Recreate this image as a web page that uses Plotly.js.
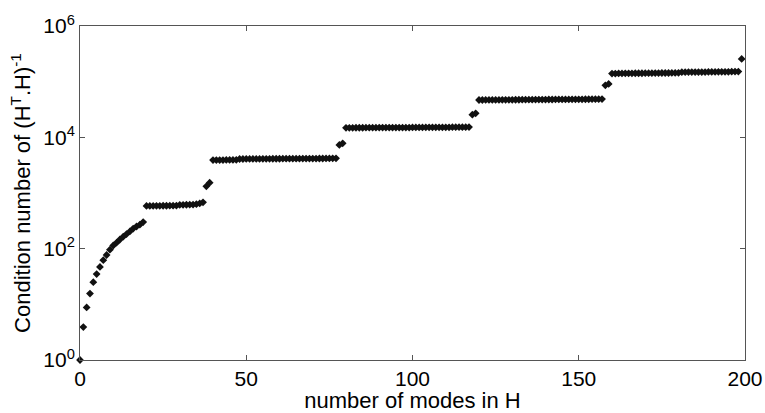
<!DOCTYPE html>
<html>
<head>
<meta charset="utf-8">
<script src="https://cdn.plot.ly/plotly-3.0.1.min.js"></script>
<style>
  html, body { margin: 0; padding: 0; background: #fff; }
  #chart { width: 765px; height: 413px; }
</style>
</head>
<body>
<div id="chart"></div>
<script>
// Condition number of (H^T.H)^-1 as modes are added to H, one value per step.
const curveStart = [1, 3.9, 8.8, 15.6, 25, 35, 47, 62, 77, 96, 114, 128, 146, 164, 183, 204, 230, 250, 270, 300];
const plateau2 = [585, 585, 586, 588, 588, 590, 590, 591, 592, 594, 610, 612, 615, 618, 620, 630, 650, 680];
const jump2 = [1320, 1530];
const plateau3 = [3900, 3900, 3910, 3910, 3920, 3920, 3930, 3940,
  4080, 4080, 4090, 4090, 4100, 4100, 4100, 4110, 4110, 4110,
  4120, 4120, 4120, 4130, 4130, 4130, 4140, 4140, 4140, 4150,
  4150, 4150, 4160, 4160, 4170, 4170, 4180, 4180, 4190, 4200];
const jump3 = [7300, 7800];
const plateau4 = [14800, 14800, 14800, 14850, 14850, 14850, 14900, 14900, 14900, 14900,
  14950, 14950, 14950, 14950, 15000, 15000, 15000, 15000, 15000, 15000,
  15050, 15050, 15050, 15050, 15100, 15100, 15100, 15100, 15100, 15150,
  15150, 15150, 15200, 15200, 15200, 15250, 15250, 15300];
const jump4 = [25500, 27000];
const plateau5 = [46800, 46800, 46900, 46900, 47000, 47000, 47000, 47100, 47100, 47200,
  47200, 47300, 47300, 47400, 47400, 47500, 47500, 47600, 47600, 47700,
  47700, 47800, 47800, 47900, 47900, 48000, 48000, 48000, 48100, 48100,
  48200, 48200, 48300, 48300, 48400, 48400, 48500, 48600];
const jump5 = [86000, 91000];
const plateau6 = [140000, 140000, 140500, 140500, 141000, 141000, 141000, 141500, 141500, 141500,
  142000, 142000, 142000, 142500, 142500, 143000, 143000, 143000, 143500, 143500, 144000,
  148000, 148000, 148500, 148500, 148500, 149000, 149000, 149000, 149500,
  149500, 149500, 150000, 150000, 150000, 150500, 151000, 151500, 152000];
const jump6 = [256000];

const condNumber = [].concat(curveStart, plateau2, jump2, plateau3, jump3,
  plateau4, jump4, plateau5, jump5, plateau6, jump6);
const modes = condNumber.map((_, i) => i);

const xTicks = [0, 50, 100, 150, 200];
const yTickVals = [1, 100, 10000, 1000000];
const yTickText = ['10<sup>0</sup>', '10<sup>2</sup>', '10<sup>4</sup>', '10<sup>6</sup>'];

const tickFont = { family: 'Liberation Sans, Arial, sans-serif', size: 21, color: '#000' };
const titleFont = { family: 'Liberation Sans, Arial, sans-serif', size: 22, color: '#000' };

const trace = {
  x: modes,
  y: condNumber,
  type: 'scatter',
  mode: 'markers',
  cliponaxis: false,
  marker: { symbol: 'diamond', size: 6, color: '#111' }
};

const axisCommon = {
  showline: true,
  linecolor: '#555',
  linewidth: 1,
  mirror: 'ticks',
  ticks: 'inside',
  ticklen: 5,
  tickcolor: '#555',
  showgrid: false,
  zeroline: false,
  automargin: false,
  tickfont: tickFont
};

const layout = {
  width: 765,
  height: 413,
  margin: { l: 80, r: 20, t: 26, b: 53 },
  paper_bgcolor: '#fff',
  plot_bgcolor: '#fff',
  showlegend: false,
  xaxis: Object.assign({}, axisCommon, {
    range: [0, 200],
    tickvals: xTicks,
    ticktext: xTicks.map(String),
    title: { text: 'number of modes in H', font: titleFont, standoff: 0 }
  }),
  yaxis: Object.assign({}, axisCommon, {
    type: 'log',
    range: [0, 6],
    tickvals: yTickVals,
    ticktext: yTickText,
    title: { text: 'Condition number of (H<sup>T</sup>.H)<sup>-1</sup>', font: titleFont, standoff: 6 }
  })
};

Plotly.newPlot('chart', [trace], layout, { staticPlot: true, displayModeBar: false });
</script>
</body>
</html>
